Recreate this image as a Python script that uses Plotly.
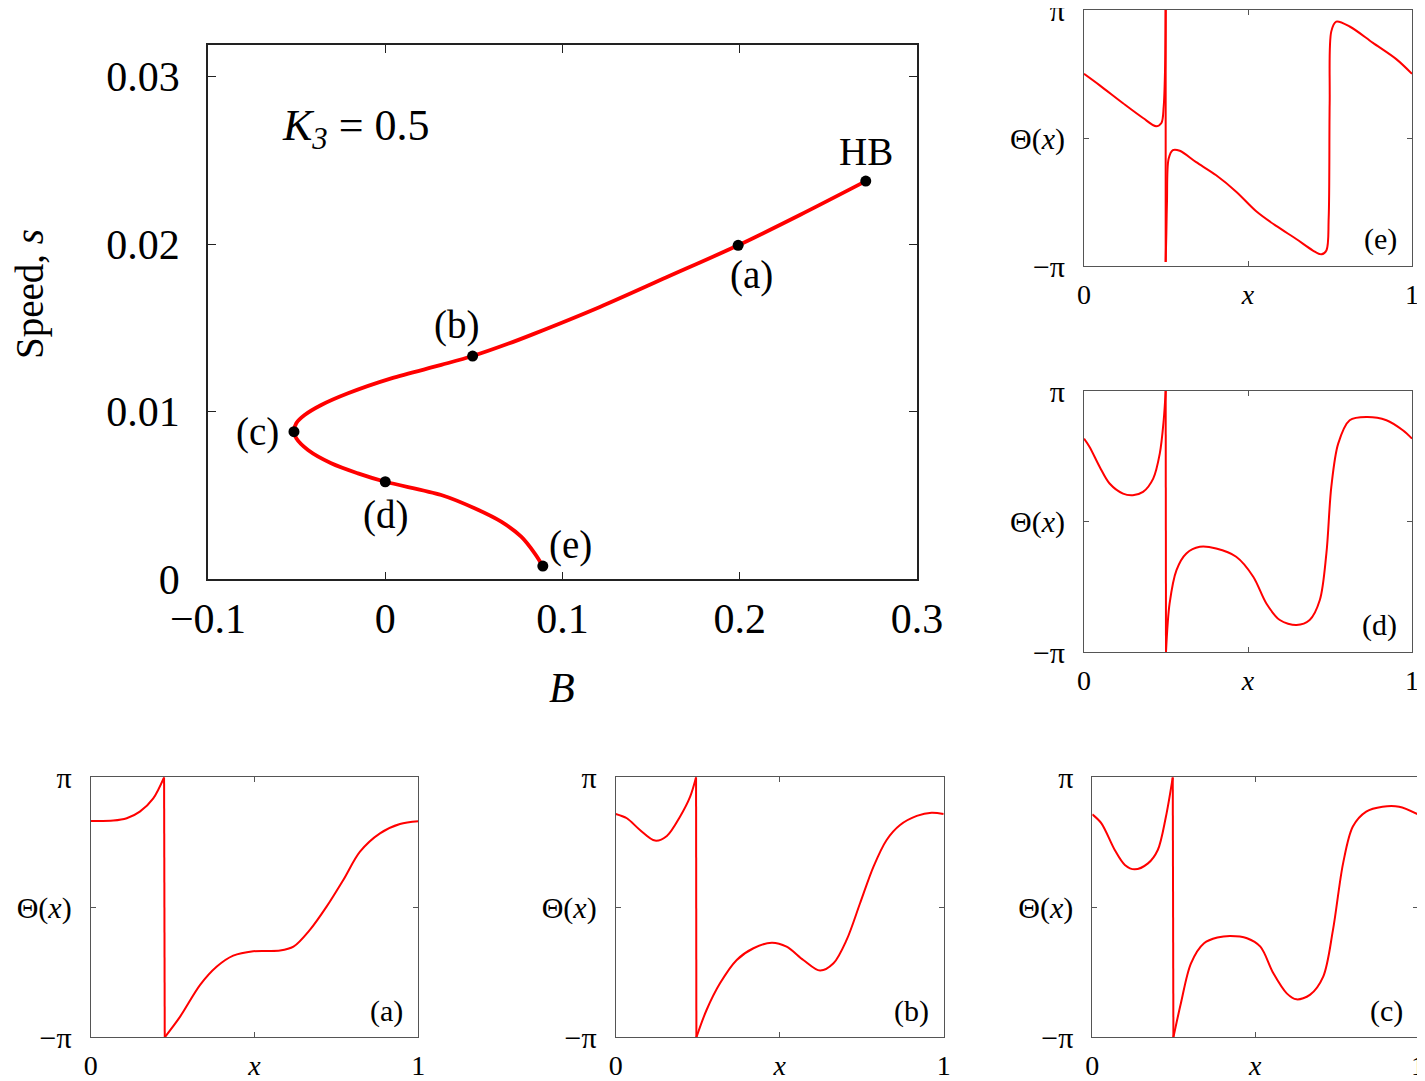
import numpy as np
import plotly.graph_objects as go

PI = np.pi

# main branch: speed s against B
branch_B = [0.0889, 0.0843, 0.0767, 0.0654, 0.0504, 0.0316, 0.0, -0.0154, -0.0305,
            -0.0436, -0.0502, -0.0515, -0.0502, -0.0455, -0.0361, -0.021, 0.0034, 0.0316,
            0.0493, 0.0692, 0.0835, 0.1211, 0.1587, 0.1991, 0.2339, 0.2711]
branch_s = [0.00079, 0.00155, 0.00254, 0.00344, 0.00424, 0.00503, 0.00582, 0.00632,
            0.00692, 0.00771, 0.00841, 0.00881, 0.00931, 0.0098, 0.0104, 0.0111, 0.01199,
            0.01279, 0.01332, 0.01405, 0.01463, 0.01625, 0.01802, 0.01993, 0.02174, 0.02376]

point_labels = ["HB", "(a)", "(b)", "(c)", "(d)", "(e)"]
point_B = [0.2711, 0.1991, 0.0493, -0.0515, 0.0, 0.0889]
point_s = [0.02376, 0.01993, 0.01332, 0.00881, 0.00582, 0.00079]
label_B = [0.2711, 0.2068, 0.0404, -0.0718, 0.0, 0.1047]
label_s = [0.0255, 0.01816, 0.01517, 0.0088, 0.00384, 0.00205]

# profiles Theta(x), theta in units of pi; each split at the jump from pi to -pi
panel_a_x1 = [0, 0.069, 0.11, 0.15, 0.191, 0.224]
panel_a_t1 = [0.664, 0.667, 0.685, 0.736, 0.838, 1.0]
panel_a_x2 = [0.226, 0.273, 0.334, 0.385, 0.435, 0.496, 0.578, 0.619, 0.669, 0.72, 0.771,
              0.822, 0.883, 0.944, 1.0]
panel_a_t2 = [-1.0, -0.841, -0.597, -0.456, -0.372, -0.338, -0.333, -0.303, -0.174, 0.005,
              0.21, 0.428, 0.569, 0.641, 0.662]

panel_b_x1 = [0, 0.034, 0.074, 0.12, 0.156, 0.196, 0.227, 0.245]
panel_b_t1 = [0.718, 0.685, 0.595, 0.513, 0.549, 0.697, 0.851, 1.0]
panel_b_x2 = [0.246, 0.277, 0.318, 0.369, 0.42, 0.476, 0.521, 0.572, 0.623, 0.664, 0.704,
              0.745, 0.786, 0.826, 0.867, 0.918, 0.963, 1.0]
panel_b_t2 = [-1.0, -0.79, -0.585, -0.405, -0.315, -0.272, -0.303, -0.405, -0.487, -0.431,
              -0.251, 0.031, 0.313, 0.518, 0.633, 0.703, 0.728, 0.718]

panel_c_x1 = [0, 0.028, 0.069, 0.1, 0.13, 0.171, 0.201, 0.226, 0.247]
panel_c_t1 = [0.715, 0.646, 0.441, 0.326, 0.292, 0.338, 0.441, 0.697, 1.0]
panel_c_x2 = [0.249, 0.272, 0.303, 0.343, 0.384, 0.424, 0.475, 0.516, 0.556, 0.597, 0.627,
              0.668, 0.709, 0.739, 0.77, 0.8, 0.841, 0.891, 0.942, 1.0]
panel_c_t2 = [-1.0, -0.738, -0.431, -0.277, -0.233, -0.221, -0.238, -0.303, -0.508, -0.662,
              -0.708, -0.674, -0.533, -0.174, 0.338, 0.621, 0.736, 0.774, 0.774, 0.715]

panel_d_x1 = [0, 0.017, 0.048, 0.078, 0.119, 0.149, 0.18, 0.211, 0.231, 0.243, 0.249]
panel_d_t1 = [0.635, 0.571, 0.418, 0.291, 0.214, 0.202, 0.227, 0.329, 0.52, 0.776, 1.0]
panel_d_x2 = [0.25, 0.261, 0.282, 0.312, 0.353, 0.403, 0.464, 0.516, 0.556, 0.597, 0.648,
              0.688, 0.719, 0.739, 0.754, 0.775, 0.81, 0.861, 0.922, 0.972, 1.0]
panel_d_t2 = [-1.0, -0.628, -0.372, -0.245, -0.194, -0.207, -0.27, -0.423, -0.628, -0.755,
              -0.793, -0.755, -0.602, -0.245, 0.265, 0.597, 0.776, 0.801, 0.776, 0.699, 0.635]

panel_e_x1 = [0, 0.048, 0.119, 0.18, 0.22, 0.236, 0.243, 0.247, 0.249]
panel_e_t1 = [0.501, 0.411, 0.271, 0.156, 0.092, 0.117, 0.245, 0.526, 1.0]
panel_e_x2 = [0.249, 0.251, 0.253, 0.258, 0.271, 0.292, 0.342, 0.403, 0.464, 0.525, 0.586,
              0.647, 0.698, 0.724, 0.739, 0.746, 0.749, 0.754, 0.769, 0.81, 0.881, 0.952, 1.0]
panel_e_t2 = [-0.968, -0.75, -0.496, -0.163, -0.095, -0.1, -0.189, -0.291, -0.419, -0.572,
              -0.687, -0.789, -0.879, -0.909, -0.879, -0.623, 0.271, 0.833, 0.909, 0.871,
              0.743, 0.616, 0.501]

FONT = "Liberation Serif"
OFF = 8  # page body margin
W, H = 1425 - OFF, 1081 - OFF


def px(v):
    return min(max((v - OFF) / W, 0), 1)


def py(v):
    return min(max(1 - (v - OFF) / H, 0), 1)


fig = go.Figure()

fig.add_trace(go.Scatter(x=branch_B, y=branch_s, mode="lines",
                         line=dict(color="#ff0000", width=3.8, shape="spline", smoothing=0.9),
                         xaxis="x", yaxis="y", showlegend=False))
fig.add_trace(go.Scatter(x=point_B, y=point_s, mode="markers", marker=dict(color="black", size=11),
                         xaxis="x", yaxis="y", showlegend=False))

panels = [
    ("(a)", panel_a_x1, panel_a_t1, panel_a_x2, panel_a_t2, [90.7, 418.3], [777.3, 1037.3]),
    ("(b)", panel_b_x1, panel_b_t1, panel_b_x2, panel_b_t2, [615.7, 943.7], [777.3, 1037.3]),
    ("(c)", panel_c_x1, panel_c_t1, panel_c_x2, panel_c_t2, [1092.3, 1418], [777.3, 1037.3]),
    ("(d)", panel_d_x1, panel_d_t1, panel_d_x2, panel_d_t2, [1084, 1412], [391, 652]),
    ("(e)", panel_e_x1, panel_e_t1, panel_e_x2, panel_e_t2, [1084, 1412], [10, 266]),
]

layout = dict(
    width=W, height=H, margin=dict(l=0, r=0, t=0, b=0, autoexpand=False),
    paper_bgcolor="white", plot_bgcolor="white", showlegend=False,
    font=dict(family=FONT, color="black"),
)

layout["xaxis"] = dict(domain=[px(208), px(917)], range=[-0.1, 0.3], tickvals=[-0.1, 0, 0.1, 0.2, 0.3],
                       ticktext=["\u22120.1", "0", "0.1", "0.2", "0.3"], automargin=False,
                       showline=True, linecolor="#222", linewidth=1.5, mirror="ticks",
                       ticks="inside", ticklen=8, tickcolor="#222", showgrid=False, zeroline=False,
                       tickfont=dict(size=42, family=FONT), ticklabelstandoff=2, anchor="y")
layout["yaxis"] = dict(domain=[py(579.3), py(45)], range=[0, 0.03188],
                       tickvals=[0, 0.01, 0.02, 0.03], ticktext=["0", "0.01", "0.02", "0.03"],
                       automargin=False,
                       showline=True, linecolor="#222", linewidth=1.5, mirror="ticks",
                       ticks="inside", ticklen=8, tickcolor="#222", showgrid=False, zeroline=False,
                       tickfont=dict(size=42, family=FONT), ticklabelstandoff=18, anchor="x")

annotations = [
    dict(x=px(30), y=py(294), xref="paper", yref="paper", text="Speed, <i>s</i>",
         xanchor="center", yanchor="middle",
         textangle=-90, showarrow=False, font=dict(size=39, family=FONT)),
    dict(x=px(562), y=py(688), xref="paper", yref="paper", text="<i>B</i>",
         xanchor="center", yanchor="middle", showarrow=False, font=dict(size=42, family=FONT)),
    dict(x=-0.0165, y=0.0269, xref="x", yref="y", text="<i>K<sub>3</sub></i> = 0.5",
         showarrow=False, font=dict(size=44, family=FONT)),
]
for lab, bx, bs in zip(point_labels, label_B, label_s):
    annotations.append(dict(x=bx, y=bs, xref="x", yref="y", text=lab, showarrow=False,
                            font=dict(size=39, family=FONT)))

red = dict(color="#ff0000", width=2)
for i, (lab, x1, t1, x2, t2, xd, yd) in enumerate(panels, start=2):
    xa, ya = f"x{i}", f"y{i}"
    y1 = [t * PI for t in t1]
    y2 = [t * PI for t in t2]
    fig.add_trace(go.Scatter(x=x1, y=y1, mode="lines", line=dict(red, shape="spline", smoothing=0.9),
                             xaxis=xa, yaxis=ya, showlegend=False))
    fig.add_trace(go.Scatter(x=[x1[-1], x2[0]], y=[y1[-1], y2[0]], mode="lines", line=red,
                             xaxis=xa, yaxis=ya, showlegend=False))
    fig.add_trace(go.Scatter(x=x2, y=y2, mode="lines", line=dict(red, shape="spline", smoothing=0.9),
                             xaxis=xa, yaxis=ya, showlegend=False))
    layout[f"xaxis{i}"] = dict(domain=[px(xd[0]), px(xd[1])], range=[0, 1], tickvals=[0, 0.5, 1],
                               ticktext=["0", "<i>x</i>", "1"], showline=True, linecolor="#555",
                               linewidth=1, mirror="ticks", ticks="inside", ticklen=5,
                               tickcolor="#555", showgrid=False, zeroline=False, automargin=False,
                               tickfont=dict(size=28, family=FONT), ticklabelstandoff=3,
                               ticklabeloverflow="allow", anchor=ya)
    layout[f"yaxis{i}"] = dict(domain=[py(yd[1]), py(yd[0])], range=[-PI, PI],
                               tickvals=[-PI, 0, PI], ticktext=["\u2212\u03c0", "\u0398(<i>x</i>)", "\u03c0"],
                               showline=True, linecolor="#555", linewidth=1, mirror="ticks",
                               ticks="inside", ticklen=5, tickcolor="#555", showgrid=False,
                               zeroline=False, automargin=False, tickfont=dict(size=30, family=FONT),
                               ticklabelstandoff=12, ticklabeloverflow="allow", anchor=xa)
    annotations.append(dict(x=0.96, y=0.03, xref=f"{xa} domain", yref=f"{ya} domain", text=lab,
                            xanchor="right", yanchor="bottom", showarrow=False,
                            font=dict(size=30, family=FONT)))

layout["annotations"] = annotations
fig.update_layout(**layout)

fig.write_html("out.html")
